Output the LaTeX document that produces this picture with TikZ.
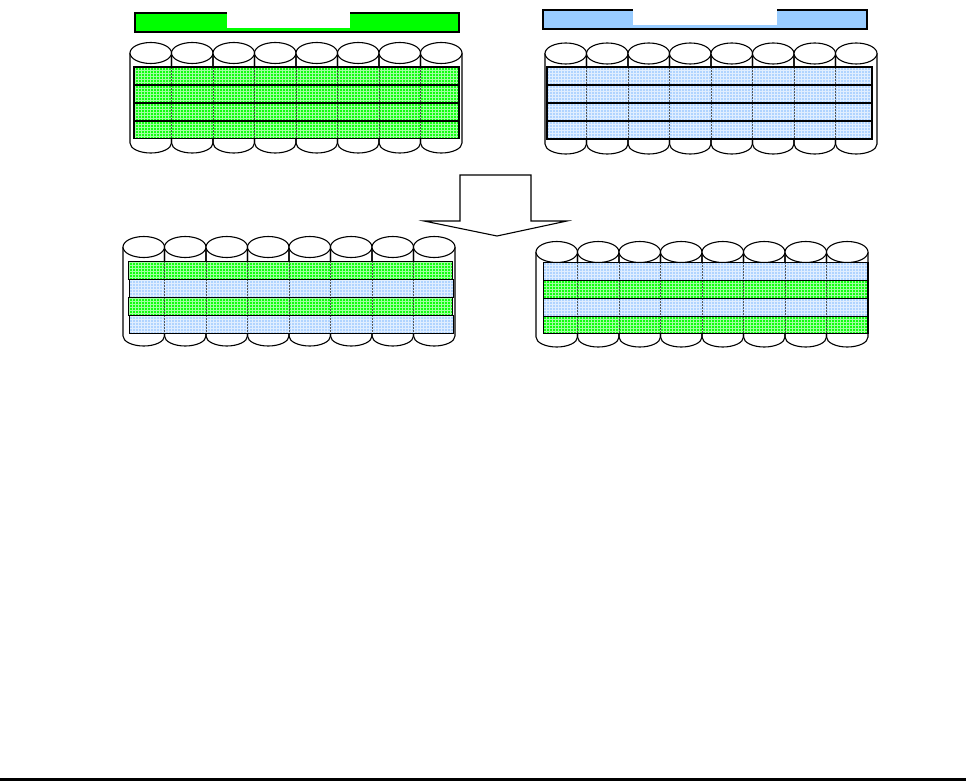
\documentclass[tikz,border=0pt]{standalone}
\usetikzlibrary{patterns}
\definecolor{gbase}{HTML}{10FF10}
\definecolor{ggrid}{HTML}{A0FFA0}
\definecolor{bbase}{HTML}{B0D4FF}
\definecolor{bgrid}{HTML}{E0EEFF}
\definecolor{barblue}{HTML}{99CCFF}
\definecolor{bargreen}{HTML}{00FF00}
\tikzset{
  cyl/.style={draw=black, line width=1.1pt},
  cyltop/.style={draw=black, fill=white, line width=1.1pt},
  gstripe/.style={fill=gbase, postaction={pattern=grid, pattern color=ggrid}},
  bstripe/.style={fill=bbase, postaction={pattern=grid, pattern color=bgrid}},
  sepline/.style={draw=black!80, opacity=0.8, line width=1pt, dash pattern=on 2pt off 1pt},
  bar/.style={draw=black, line width=2pt},
}
% #1 x0, #2 width of one cylinder, #3 top-ellipse centre y, #4 bottom-ellipse centre y
\newcommand{\cylrow}[4]{%
  \foreach \i in {0,...,7}{%
    \pgfmathsetmacro{\xl}{#1+\i*#2}%
    \pgfmathsetmacro{\xr}{#1+(\i+1)*#2}%
    \draw[cyl] (\xl,#3) -- (\xl,#4) arc[start angle=180, end angle=360, x radius={#2*0.5pt}, y radius=10pt] -- (\xr,#3);
  }%
  \foreach \i in {0,...,7}{%
    \pgfmathsetmacro{\xc}{#1+(\i+0.5)*#2}%
    \draw[cyltop] (\xc,#3) ellipse [x radius={#2*0.5pt}, y radius=10.5pt];
  }%
}
% #1 x0, #2 width, #3 y top, #4 y bottom : inner separators
\newcommand{\seplines}[4]{%
  \foreach \i in {1,...,7}{%
    \pgfmathsetmacro{\xl}{#1+\i*#2}%
    \draw[sepline] (\xl,#3) -- (\xl,#4);
  }%
}
\begin{document}
\begin{tikzpicture}[x=1pt,y=-1pt]
\useasboundingbox (0,0) rectangle (966,781);

% top bars
\node[bar, fill=bargreen, rectangle, minimum width=324pt, minimum height=19pt, inner sep=0pt, anchor=north west] (barL) at (134,12) {};
\fill[white] (227,9) rectangle (350,28);
\node[bar, fill=barblue, rectangle, minimum width=324pt, minimum height=19pt, inner sep=0pt, anchor=north west] (barR) at (542,9) {};
\fill[white] (633,6) rectangle (777,25);

% top-left group
\cylrow{130}{41.5}{53}{143}
\foreach \y in {67,85,103,121}{
  \draw[gstripe] (134,\y) rectangle (459,\y+17.5);
}
\seplines{130}{41.5}{67}{138.5}
\foreach \y in {67,85,103,121}{
  \draw[line width=1.6pt] (134,\y) rectangle (459,\y+17.5);
}

% top-right group
\cylrow{545}{41.5}{53.5}{144}
\foreach \y in {67,85,103,121}{
  \draw[bstripe] (547,\y) rectangle (872,\y+18);
}
\seplines{545}{41.5}{67}{139}
\foreach \y in {67,85,103,121}{
  \draw[line width=1.6pt] (547,\y) rectangle (872,\y+18);
}

% arrow
\draw[line width=1.1pt, fill=white] (460,175) coordinate (a1) -- (531,175) -- (531,221) -- (567,221) -- (497,236) coordinate (tip) -- (424,221) -- (460,221) -- cycle;

% bottom-left group
\cylrow{123}{41.5}{247}{336}
\draw[gstripe] (128,261) rectangle (452,279);
\draw[bstripe] (129,279) rectangle (453,297);
\draw[gstripe] (128,297) rectangle (452,315);
\draw[bstripe] (129,315) rectangle (453,333);
\seplines{123}{41.5}{261}{333}
\draw[line width=0.9pt] (128,261) rectangle (452,279);
\draw[line width=0.9pt] (129,279) rectangle (453,297);
\draw[line width=0.9pt] (128,297) rectangle (452,315);
\draw[line width=0.9pt] (129,315) rectangle (453,333);

% bottom-right group
\cylrow{536}{41.5}{252}{337}
\draw[bstripe] (543,262) rectangle (868,280);
\draw[gstripe] (543,280) rectangle (868,298);
\draw[bstripe] (543,298) rectangle (868,316);
\draw[gstripe] (543,316) rectangle (868,333);
\seplines{536}{41.5}{262}{333}
\foreach \ya/\yb in {262/280,280/298,298/316,316/333}{
  \draw[line width=0.9pt] (543,\ya) rectangle (868,\yb);
}
\draw[line width=2pt] (868,262) -- (868,333);

% bottom rule
\fill[black] (0,778) rectangle (966,781);
\end{tikzpicture}
\end{document}
